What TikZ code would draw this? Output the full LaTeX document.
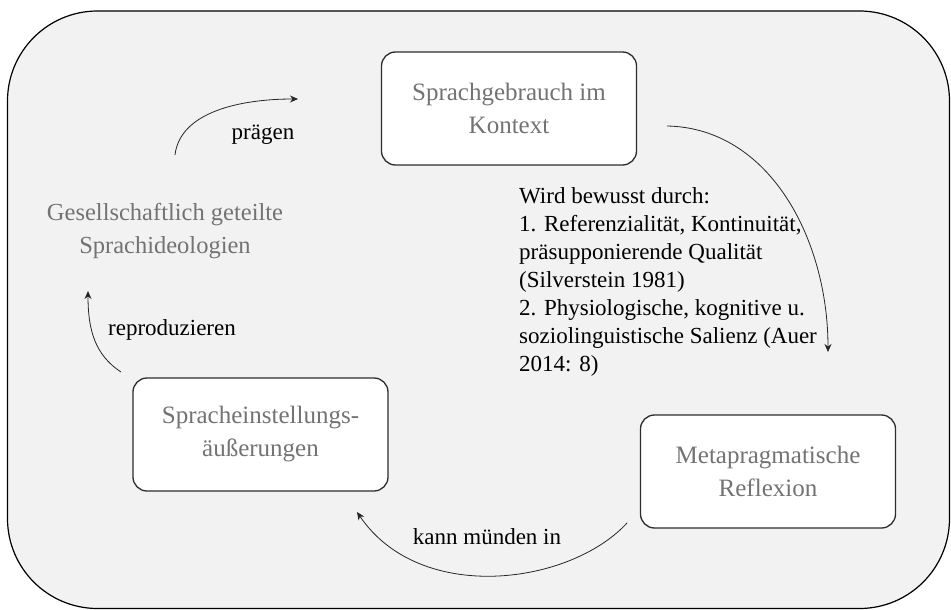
\documentclass[tikz,border=0pt]{standalone}
\usepackage{fontspec}
\setmainfont{Liberation Serif}
\usetikzlibrary{arrows.meta}
\definecolor{bgfill}{RGB}{242,242,242}
\definecolor{txtgray}{RGB}{115,115,115}
\definecolor{edgegray}{RGB}{45,45,45}
\begin{document}
\begin{tikzpicture}[x=1pt,y=-1pt,
  stagebox/.style={draw=edgegray, line width=1.3pt, fill=white, rounded corners=14pt,
    minimum width=255pt, minimum height=113pt, align=center, inner sep=0pt,
    text=txtgray, font=\fontsize{25}{33}\selectfont},
  freetext/.style={align=center, inner sep=0pt, text=txtgray, font=\fontsize{24.5}{33}\selectfont},
  lbl/.style={inner sep=0pt, text=black, font=\fontsize{23}{28}\selectfont},
  conn/.style={draw=black!85, line width=0.8pt, -{Stealth[length=8pt,width=7pt]}}]
\useasboundingbox (0,0) rectangle (951,610);
\fill[white] (0,0) rectangle (951,610);
\draw[fill=bgfill, line width=1.2pt, rounded corners=90pt] (7.5,11) rectangle (949.5,608.5);

\node[stagebox] (sg) at (509,108.5) {Sprachgebrauch im\\Kontext};
\node[stagebox] (se) at (260.5,434.5) {Spracheinstellungs-\\äußerungen};
\node[stagebox] (mr) at (768,471.5) {Metapragmatische\\Reflexion};
\node[freetext] (gs) at (165,231) {Gesellschaftlich geteilte\\Sprachideologien};

\node[lbl, anchor=north west, align=left] (wb) at (519,187)
  {Wird bewusst durch:\\1. Referenzialität, Kontinuität,\\präsupponierende Qualität\\(Silverstein 1981)\\2. Physiologische, kognitive u.\\soziolinguistische Salienz (Auer\\2014: 8)};

\coordinate (a1s) at (175,155);
\coordinate (a1e) at (298,99);
\coordinate (a2s) at (667,126);
\coordinate (a2e) at (828,352);
\coordinate (a3s) at (627,523);
\coordinate (a3e) at (357,512);
\coordinate (a4s) at (121,372);
\coordinate (a4e) at (88,291);

\draw[conn] (a1s) .. controls (180,112) and (240,99) .. (a1e);
\draw[conn] (a2s) .. controls (770,128) and (828,240) .. (a2e);
\draw[conn] (a3s) .. controls (570,585) and (420,605) .. (a3e);
\draw[conn] (a4s) .. controls (95,355) and (88,330) .. (a4e);

\node[lbl] (pr) at (263,135) {prägen};
\node[lbl] (km) at (487,537) {kann münden in};
\node[lbl] (rp) at (172,330) {reproduzieren};
\end{tikzpicture}
\end{document}
